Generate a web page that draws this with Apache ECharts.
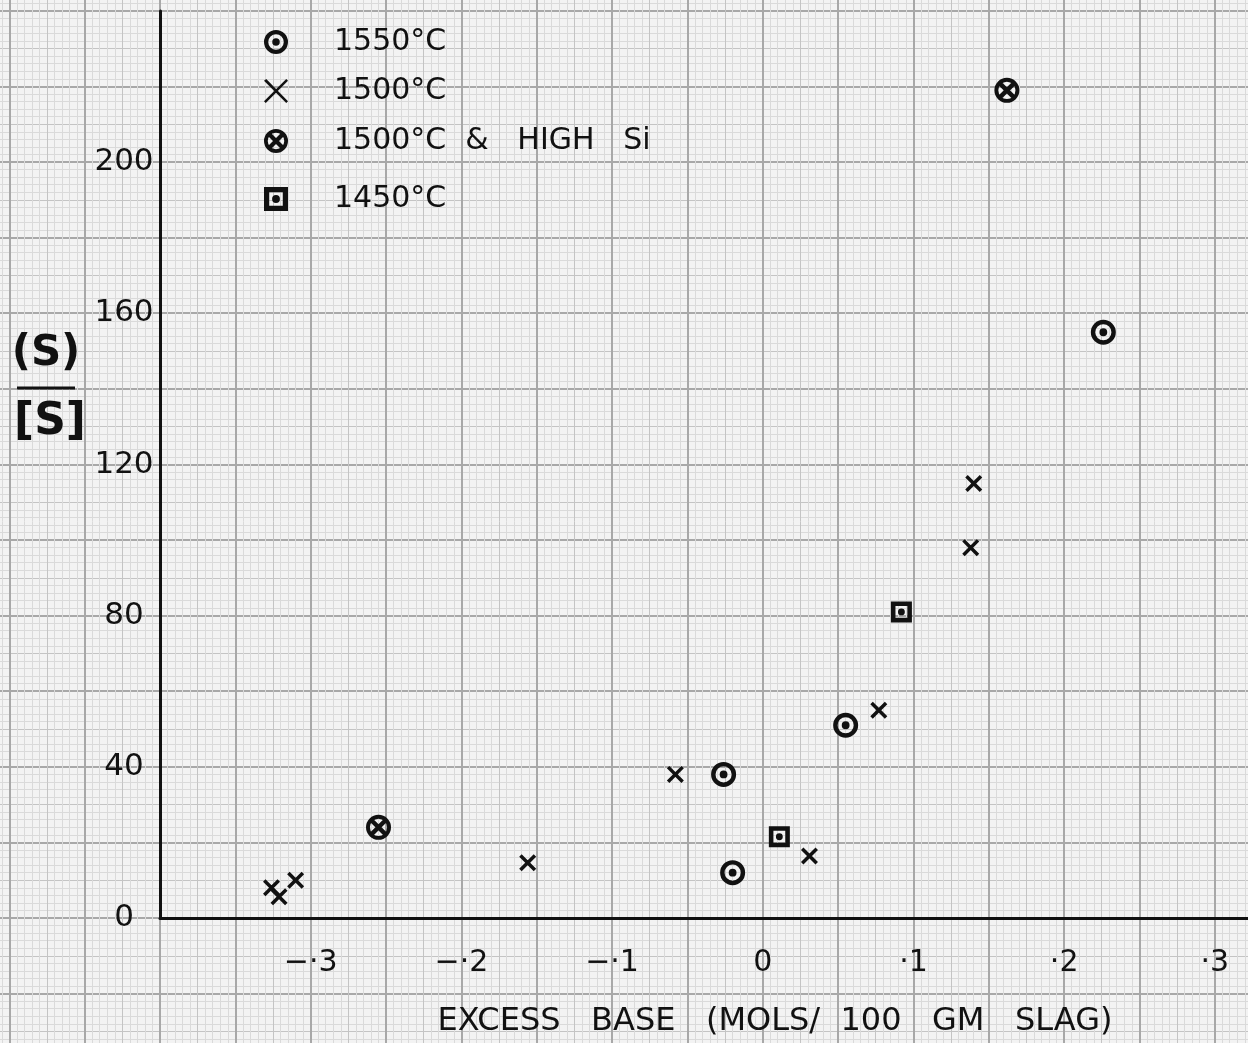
<!DOCTYPE html>
<html><head><meta charset="utf-8">
<script src="https://cdn.jsdelivr.net/npm/echarts@6/dist/echarts.min.js"></script>
<style>html,body{margin:0;padding:0;background:#f2f2f2}#c{width:1248px;height:1043px}</style>
</head><body><div id="c"></div>
<script>
// ---- data ----
const xTicks = [-0.3, -0.2, -0.1, 0, 0.1, 0.2, 0.3];
const xTickLabels = ['−·3', '−·2', '−·1', '0', '·1', '·2', '·3'];
const yTicks = [0, 40, 80, 120, 160, 200];
const yTickLabels = ['0', '40', '80', '120', '160', '200'];
const seriesNames = ['1550°C', '1500°C', '1500°C  &   HIGH   Si', '1450°C'];
const s1550 = [[-0.026, 38], [-0.020, 12], [0.055, 51], [0.226, 155]];
const s1500 = [[-0.326, 8], [-0.321, 5.6], [-0.310, 10], [-0.156, 14.6], [-0.058, 38], [0.031, 16.4], [0.077, 55], [0.138, 98], [0.140, 115]];
const s1500Si = [[-0.255, 24], [0.162, 219]];
const s1450 = [[0.011, 21.5], [0.092, 81]];
const xTitle = 'EXCESS   BASE   (MOLS/  100   GM   SLAG)';
const yTitleTop = '(S)';
const yTitleBottom = '[S]';

// ---- symbols ----
const CIRCLE_DOT = 'path://M50 2 A48 48 0 1 1 50 98 A48 48 0 1 1 50 2 Z M50 19 A31 31 0 1 0 50 81 A31 31 0 1 0 50 19 Z M50 35 A15 15 0 1 1 50 65 A15 15 0 1 1 50 35 Z';
const CIRCLE_X = 'path://M50 2 A48 48 0 1 1 50 98 A48 48 0 1 1 50 2 Z M50 17 A33 33 0 1 0 50 83 A33 33 0 1 0 50 17 Z M28 16 L84 72 L72 84 L16 28 Z M84 28 L28 84 L16 72 L72 16 Z';
const SQUARE_DOT = 'path://M4 4 L96 4 L96 96 L4 96 Z M24 24 L24 76 L76 76 L76 24 Z M50 35 A15 15 0 1 1 50 65 A15 15 0 1 1 50 35 Z';
const CROSS = 'path://M16 2 L98 84 L84 98 L2 16 Z M98 16 L16 98 L2 84 L84 2 Z';
const CROSS_THIN = 'path://M11 2 L98 91 L91 98 L2 9 Z M98 9 L9 98 L2 91 L91 2 Z';

const FONT = 'DejaVu Sans';
const INK = '#111111';

function xLabel(v) {
  for (let i = 0; i < xTicks.length; i++) if (Math.abs(v - xTicks[i]) < 1e-6) return xTickLabels[i];
  return '';
}
function yLabel(v) {
  for (let i = 0; i < yTicks.length; i++) if (Math.abs(v - yTicks[i]) < 1e-6) return yTickLabels[i];
  return '';
}

function bgGrid() {
  return { left: -66, top: -64.8, width: 1356, height: 1134, show: false, containLabel: false, outerBoundsMode: 'none' };
}
function bgAxis(gi, max, interval, major) {
  return {
    gridIndex: gi, type: 'value', min: 0, max: max, interval: interval,
    axisLine: { show: false }, axisTick: { show: false }, axisLabel: { show: false },
    splitLine: { show: true, lineStyle: { color: major ? '#a8a8a8' : '#c4c4c4', width: major ? 2 : 1 } },
    minorTick: { show: false, splitNumber: 5 },
    minorSplitLine: { show: !major, lineStyle: { color: '#dadada', width: 1 } }
  };
}

function legendFor(name, icon, top) {
  return {
    data: [{ name: name, icon: icon }],
    left: 264, top: top, padding: 0, itemWidth: 24, itemHeight: 24,
    selectedMode: false,
    itemStyle: { opacity: 1 },
    textStyle: { fontSize: 30, fontFamily: FONT, color: INK, lineHeight: 24, padding: [0, 0, 0, 41] }
  };
}

const markStyle = { color: INK, opacity: 1 };

const chart = echarts.init(document.getElementById('c'), null, { renderer: 'canvas' });
chart.setOption({
  backgroundColor: '#f3f3f3',
  animation: false,
  grid: [bgGrid(), bgGrid(), { left: 160, right: 0, top: 11, bottom: 125, containLabel: false, outerBoundsMode: 'none' }],
  xAxis: [
    bgAxis(0, 18, 0.5, false),
    bgAxis(1, 18, 1, true),
    {
      gridIndex: 2, type: 'value', min: -0.4, max: 0.322, interval: 0.1,
      axisLine: { show: true, onZero: false, lineStyle: { color: INK, width: 3 } },
      axisTick: { show: false }, splitLine: { show: false },
      axisLabel: { formatter: xLabel, fontSize: 30, fontFamily: FONT, color: INK, margin: 30 },
      name: xTitle, nameLocation: 'middle', nameGap: 88,
      nameTextStyle: { fontSize: 32, fontFamily: FONT, color: INK, padding: [0, 0, 0, 142] }
    }
  ],
  yAxis: [
    bgAxis(0, 15, 0.5, false),
    bgAxis(1, 15, 1, true),
    {
      gridIndex: 2, type: 'value', min: 0, max: 240, interval: 40,
      axisLine: { show: true, onZero: false, lineStyle: { color: INK, width: 3 } },
      axisTick: { show: false }, splitLine: { show: false },
      axisLabel: { formatter: yLabel, fontSize: 31, fontFamily: FONT, color: INK, margin: 36, align: 'center' }
    }
  ],
  legend: [
    legendFor(seriesNames[0], CIRCLE_DOT, 27),
    legendFor(seriesNames[1], CROSS_THIN, 76),
    legendFor(seriesNames[2], CIRCLE_X, 126),
    legendFor(seriesNames[3], SQUARE_DOT, 184)
  ],
  graphic: [
    { type: 'text', x: 46, y: 354, z: 10, style: { text: yTitleTop, font: 'bold 42px "DejaVu Sans"', fill: INK, align: 'center', verticalAlign: 'middle' } },
    { type: 'line', z: 10, shape: { x1: 17, y1: 388, x2: 75, y2: 388 }, style: { stroke: INK, lineWidth: 3 } },
    { type: 'text', x: 50, y: 423, z: 10, style: { text: yTitleBottom, font: 'bold 44px "DejaVu Sans"', fill: INK, align: 'center', verticalAlign: 'middle' } }
  ],
  series: [
    { name: seriesNames[0], type: 'scatter', xAxisIndex: 2, yAxisIndex: 2, data: s1550, symbol: CIRCLE_DOT, symbolSize: 25, itemStyle: markStyle, z: 5 },
    { name: seriesNames[1], type: 'scatter', xAxisIndex: 2, yAxisIndex: 2, data: s1500, symbol: CROSS, symbolSize: 17, itemStyle: markStyle, z: 5 },
    { name: seriesNames[2], type: 'scatter', xAxisIndex: 2, yAxisIndex: 2, data: s1500Si, symbol: CIRCLE_X, symbolSize: 25, itemStyle: markStyle, z: 5 },
    { name: seriesNames[3], type: 'scatter', xAxisIndex: 2, yAxisIndex: 2, data: s1450, symbol: SQUARE_DOT, symbolSize: 21, itemStyle: markStyle, z: 5 }
  ]
});
</script>
</body></html>
